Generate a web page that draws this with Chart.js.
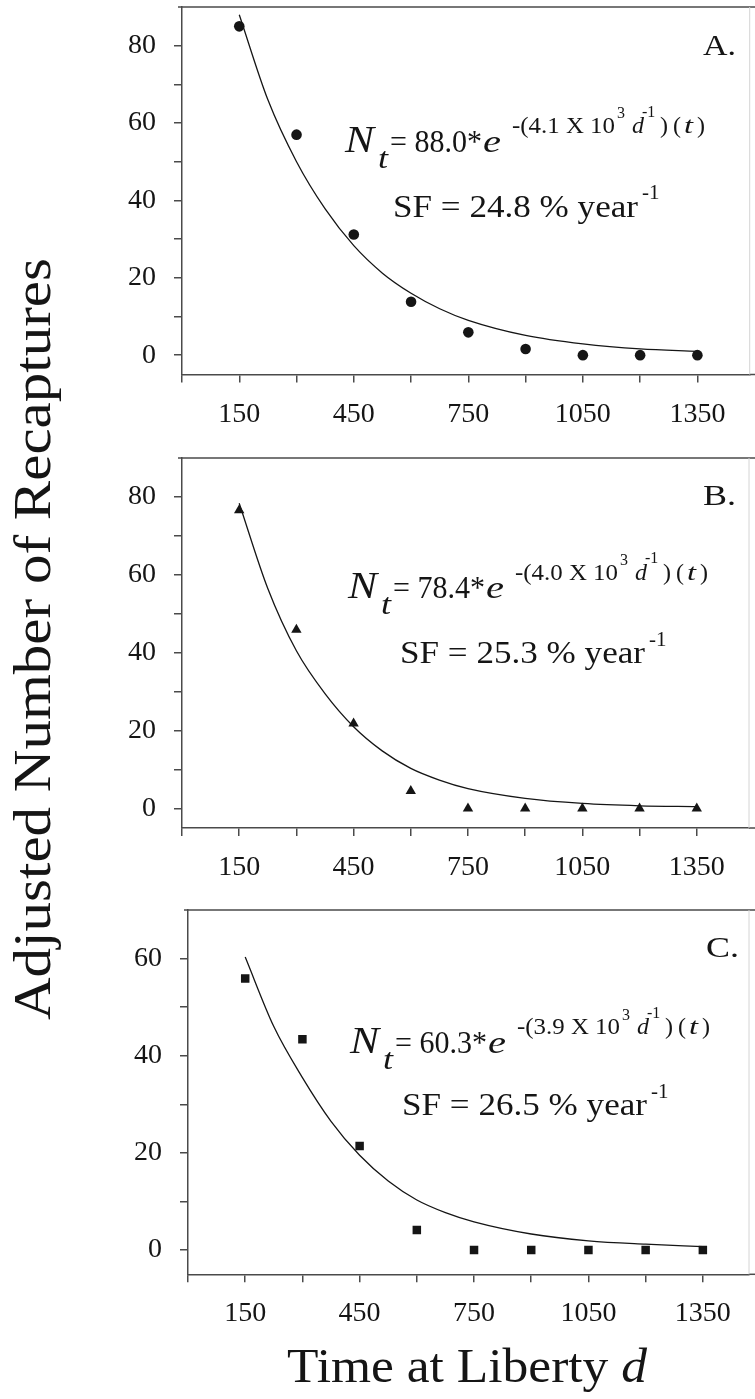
<!DOCTYPE html>
<html>
<head>
<meta charset="utf-8">
<script src="https://cdn.jsdelivr.net/npm/chart.js@4.4.1/dist/chart.umd.min.js"></script>
<style>
html, body { margin: 0; padding: 0; background: #ffffff; }
body { width: 755px; height: 1399px; position: relative; overflow: hidden; }
canvas { position: absolute; left: 0; }
.title { position: absolute; font-family: "Liberation Serif", "Times New Roman", serif; color: #151515;
         white-space: nowrap; transform-origin: 0 0; line-height: 1; }
</style>
</head>
<body>
<canvas id="panelA" width="755" height="445" style="top:0px"></canvas>
<canvas id="panelB" width="755" height="445" style="top:450px"></canvas>
<canvas id="panelC" width="755" height="440" style="top:900px"></canvas>
<div id="ytitle" class="title">Adjusted Number of Recaptures</div>
<div id="xtitle" class="title">Time at Liberty <i>d</i></div>
<script>
// ---------------- data ----------------
const days = [150, 300, 450, 600, 750, 900, 1050, 1200, 1350];
const recapA = [85, 57, 31.2, 13.8, 5.9, 1.6, 0, 0, 0];
const recapB = [76.6, 45.9, 21.8, 4.5, 0, 0, 0, 0, 0];
const recapC = [55.9, 43.4, 21.4, 4.1, 0, 0, 0, 0, 0];
const fitDays = [150, 225, 300, 375, 450, 525, 600, 675, 750, 900, 1050, 1200, 1350];
const fitA = [88, 66, 50, 37.8, 28.3, 21.2, 16, 12, 9, 5.1, 2.9, 1.6, 1.0];
const fitB = [78.4, 56.5, 40.5, 29.5, 21, 14.8, 10.3, 7.3, 5.1, 2.6, 1.3, 0.7, 0.5];
const fitC = [60.3, 46, 35.5, 26.5, 19.5, 14.2, 10.3, 7.7, 5.8, 3.3, 1.9, 1.2, 0.7];
const xTickValues = [0, 150, 300, 450, 600, 750, 900, 1050, 1200, 1350];
const xTickLabels = ['', '150', '', '450', '', '750', '', '1050', '', '1350'];
const yTicksAB = [0, 10, 20, 30, 40, 50, 60, 70, 80];
const yLabelsAB = ['0', '', '20', '', '40', '', '60', '', '80'];
const yTicksC = [0, 10, 20, 30, 40, 50, 60];
const yLabelsC = ['0', '', '20', '', '40', '', '60'];
const panelLetters = ['A.', 'B.', 'C.'];
const coefs = ['88.0', '78.4', '60.3'];
const rates = ['4.1', '4.0', '3.9'];
const sfValues = ['24.8', '25.3', '26.5'];
const yTitle = 'Adjusted Number of Recaptures';
const xTitle = 'Time at Liberty ';
const xTitleVar = 'd';

// ---------------- style ----------------
const FONT = '"Liberation Serif", "Times New Roman", serif';
const INK = '#151515';
const AXIS = '#4a4a4a';

function txt(ctx, s, x, y, size, italic, targetW) {
  ctx.font = (italic ? 'italic ' : '') + size + 'px ' + FONT;
  const w = ctx.measureText(s).width;
  const sx = targetW ? targetW / w : 1;
  ctx.save();
  ctx.translate(x, y);
  ctx.scale(sx, 1);
  ctx.fillStyle = INK;
  ctx.textBaseline = 'alphabetic';
  ctx.textAlign = 'left';
  ctx.fillText(s, 0, 0);
  ctx.restore();
}

const panels = [
  { id: 'panelA', top: 0, padTop: 7, padBottom: 10.5, yWidth: 182, xMax: 1487, yMax: 90,
    obs: recapA, fit: fitA, marker: 'circle', r: 5.3, yTicks: yTicksAB, yLabels: yLabelsAB,
    letter: panelLetters[0], coef: coefs[0], rate: rates[0], sf: sfValues[0],
    eqX: 345, eqY: 151.7, sfX: 393, sfY: 216.7, lx: 703, ly: 55 },
  { id: 'panelB', top: 450, padTop: 8, padBottom: 7, yWidth: 182, xMax: 1487, yMax: 90,
    obs: recapB, fit: fitB, marker: 'triangle', r: 6, yTicks: yTicksAB, yLabels: yLabelsAB,
    letter: panelLetters[1], coef: coefs[1], rate: rates[1], sf: sfValues[1],
    eqX: 348, eqY: 598.3, sfX: 400, sfY: 663.3, lx: 703, ly: 505 },
  { id: 'panelC', top: 900, padTop: 10, padBottom: 5.7, yWidth: 188, xMax: 1471, yMax: 70,
    obs: recapC, fit: fitC, marker: 'rect', r: 6, yTicks: yTicksC, yLabels: yLabelsC,
    letter: panelLetters[2], coef: coefs[2], rate: rates[2], sf: sfValues[2],
    eqX: 350, eqY: 1053, sfX: 402, sfY: 1115, lx: 706, ly: 957 }
];

function framePlugin(p) {
  return {
    id: 'frame_' + p.id,
    afterDraw(chart) {
      const { ctx, chartArea: a } = chart;
      const oy = p.top;
      ctx.save();
      ctx.strokeStyle = AXIS; ctx.lineWidth = 1.5;
      ctx.beginPath(); ctx.moveTo(a.left - 4, a.top); ctx.lineTo(chart.width, a.top); ctx.stroke();
      ctx.beginPath(); ctx.moveTo(a.right, a.bottom); ctx.lineTo(chart.width, a.bottom); ctx.stroke();
      ctx.strokeStyle = '#d4d4d4'; ctx.lineWidth = 1;
      ctx.beginPath(); ctx.moveTo(a.right, a.top); ctx.lineTo(a.right, a.bottom); ctx.stroke();
      ctx.restore();

      const x0 = p.eqX, y0 = p.eqY - oy, ey = y0 - 18.7;
      txt(ctx, 'N', x0, y0, 38, true, 29);
      txt(ctx, 't', x0 + 33, y0 + 16, 30, true, 10);
      txt(ctx, '= ' + p.coef + '*', x0 + 45, y0, 32, false, 92);
      txt(ctx, 'e', x0 + 138, y0, 32, true, 18);
      txt(ctx, '-(' + p.rate + ' X 10', x0 + 167, ey, 24, false, 103);
      txt(ctx, '3', x0 + 272, y0 - 33.4, 16, false, 0);
      txt(ctx, 'd', x0 + 287, ey, 24, true, 0);
      txt(ctx, '-1', x0 + 297, y0 - 35, 16, false, 0);
      txt(ctx, ')', x0 + 315, ey, 24, false, 0);
      txt(ctx, '(', x0 + 328, ey, 24, false, 0);
      txt(ctx, 't', x0 + 339, ey, 24, true, 9);
      txt(ctx, ')', x0 + 352, ey, 24, false, 0);

      txt(ctx, 'SF = ' + p.sf + ' % year', p.sfX, p.sfY - oy, 32, false, 245);
      txt(ctx, '-1', p.sfX + 249, p.sfY - oy - 17.4, 21, false, 0);

      txt(ctx, p.letter, p.lx, p.ly - oy, 29, false, 33);
    }
  };
}

function makePanel(p) {
  const canvas = document.getElementById(p.id);
  return new Chart(canvas, {
    type: 'scatter',
    data: {
      datasets: [
        {
          data: fitDays.map((d, i) => ({ x: d, y: p.fit[i] })),
          showLine: true, borderColor: INK, borderWidth: 1.3, pointRadius: 0,
          cubicInterpolationMode: 'monotone', fill: false, order: 2
        },
        {
          data: days.map((d, i) => ({ x: d, y: p.obs[i] })),
          showLine: false, pointStyle: p.marker, pointRadius: p.r,
          backgroundColor: INK, borderColor: INK, borderWidth: 0, order: 1
        }
      ]
    },
    options: {
      responsive: false,
      animation: false,
      events: [],
      layout: { padding: { top: p.padTop, right: 3, bottom: p.padBottom, left: 0 } },
      plugins: { legend: { display: false }, tooltip: { enabled: false } },
      scales: {
        x: {
          type: 'linear', min: 0, max: p.xMax,
          afterBuildTicks: s => { s.ticks = xTickValues.map(v => ({ value: v })); },
          afterFit: s => { s.height = 60; s.paddingLeft = 0; s.paddingRight = 0; },
          ticks: {
            callback: v => xTickLabels[xTickValues.indexOf(v)],
            font: { family: FONT, size: 28 }, color: INK, padding: 15,
            maxRotation: 0, minRotation: 0, autoSkip: false
          },
          grid: { display: true, drawOnChartArea: false, drawTicks: true, tickLength: 8, color: AXIS, lineWidth: 1.5 },
          border: { display: true, color: AXIS, width: 1.5 }
        },
        y: {
          type: 'linear', min: -5, max: p.yMax,
          afterBuildTicks: s => { s.ticks = p.yTicks.map(v => ({ value: v })); },
          afterFit: s => { s.width = p.yWidth; s.paddingTop = 0; s.paddingBottom = 0; },
          ticks: {
            callback: v => p.yLabels[p.yTicks.indexOf(v)],
            font: { family: FONT, size: 28 }, color: INK, padding: 18, autoSkip: false
          },
          grid: { display: true, drawOnChartArea: false, drawTicks: true, tickLength: 8, color: AXIS, lineWidth: 1.5 },
          border: { display: true, color: AXIS, width: 1.5 }
        }
      }
    },
    plugins: [framePlugin(p)]
  });
}

panels.forEach(makePanel);

// ---------------- page titles ----------------
(function () {
  const m = document.createElement('canvas').getContext('2d');
  const yfs = 53;
  m.font = yfs + 'px ' + FONT;
  const yw = m.measureText(yTitle).width;
  const yEl = document.getElementById('ytitle');
  yEl.style.fontSize = yfs + 'px';
  yEl.style.left = (50 - 0.8375 * yfs) + 'px';
  yEl.style.top = '1020px';
  yEl.style.transform = 'rotate(-90deg) scaleX(' + (762 / yw) + ')';

  const xfs = 49;
  m.font = xfs + 'px ' + FONT;
  let xw = m.measureText(xTitle).width;
  m.font = 'italic ' + xfs + 'px ' + FONT;
  xw += m.measureText(xTitleVar).width;
  const xEl = document.getElementById('xtitle');
  xEl.style.fontSize = xfs + 'px';
  xEl.style.left = '286.7px';
  xEl.style.top = (1381.7 - 0.8375 * xfs) + 'px';
  xEl.style.transform = 'scaleX(' + (360 / xw) + ')';
})();
</script>
</body>
</html>
